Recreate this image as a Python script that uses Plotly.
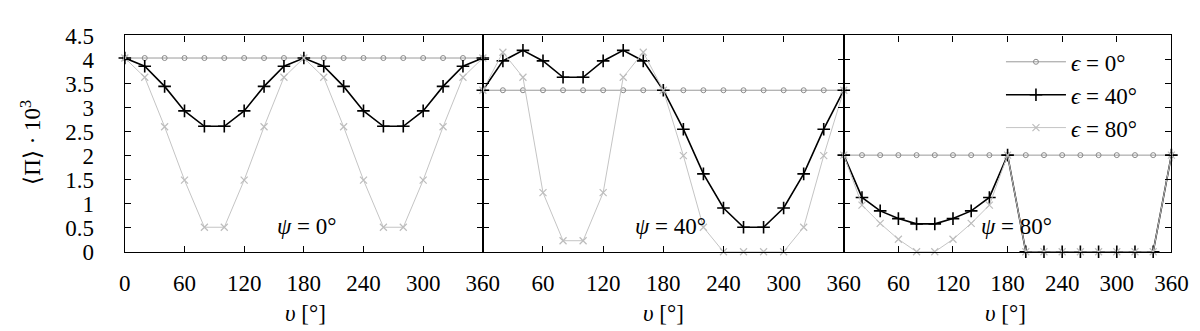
import plotly.graph_objects as go

# ---------------- data ----------------
nu = [0, 20, 40, 60, 80, 100, 120, 140, 160, 180, 200, 220, 240, 260, 280, 300, 320, 340, 360]

# psi = 0 deg
p0_eps0 = [4.03] * 19
p0_eps40 = [4.03, 3.86, 3.44, 2.93, 2.61, 2.61, 2.93, 3.44, 3.86, 4.03,
            3.86, 3.44, 2.93, 2.61, 2.61, 2.93, 3.44, 3.86, 4.03]
p0_eps80 = [4.03, 3.63, 2.60, 1.49, 0.51, 0.51, 1.49, 2.60, 3.63, 4.03,
            3.63, 2.60, 1.49, 0.51, 0.51, 1.49, 2.60, 3.63, 4.03]

# psi = 40 deg
p40_eps0 = [3.36] * 19
p40_eps40 = [3.36, 3.97, 4.19, 3.97, 3.63, 3.63, 3.97, 4.19, 3.97, 3.36,
             2.55, 1.62, 0.91, 0.51, 0.51, 0.91, 1.62, 2.55, 3.36]
p40_eps80 = [3.36, 4.15, 3.63, 1.23, 0.23, 0.23, 1.23, 3.63, 4.15, 3.36,
             2.00, 0.51, 0.0, 0.0, 0.0, 0.0, 0.51, 2.00, 3.36]

# psi = 80 deg
p80_eps0 = [2.01] * 19
p80_eps40 = [2.01, 1.13, 0.85, 0.69, 0.58, 0.58, 0.69, 0.85, 1.13, 2.01,
             0.0, 0.0, 0.0, 0.0, 0.0, 0.0, 0.0, 0.0, 2.01]
p80_eps80 = [2.01, 0.97, 0.59, 0.26, 0.0, 0.0, 0.26, 0.59, 0.97, 2.01,
             0.0, 0.0, 0.0, 0.0, 0.0, 0.0, 0.0, 0.0, 2.01]

panels = [
    ("0°", p0_eps0, p0_eps40, p0_eps80),
    ("40°", p40_eps0, p40_eps40, p40_eps80),
    ("80°", p80_eps0, p80_eps40, p80_eps80),
]
eps_names = ["<i>ϵ</i> = 0°", "<i>ϵ</i> = 40°", "<i>ϵ</i> = 80°"]
x_ticks = [0, 60, 120, 180, 240, 300, 360]

# ---------------- styling ----------------
W, H = 1200, 331
FONT = "Liberation Serif"
FS = 23
styles = [
    dict(line=dict(color="#9a9a9a", width=1),
         marker=dict(symbol="circle-open", size=5, color="#8a8a8a", line=dict(width=1))),
    dict(line=dict(color="#000000", width=1.6),
         marker=dict(symbol="cross-thin-open", size=9, color="#000000", line=dict(width=1.6, color="#000000"))),
    dict(line=dict(color="#c4c4c4", width=1),
         marker=dict(symbol="x-thin-open", size=7, color="#bdbdbd", line=dict(width=1.2, color="#bdbdbd"))),
]

# panel pixel bounds
xb = [(113, 478), (478, 846), (846, 1180)]
y_top, y_bot = 16.7, 250.7

fig = go.Figure()
for i, (psi, e0, e40, e80) in enumerate(panels):
    xa = "x" if i == 0 else f"x{i+1}"
    ya = "y" if i == 0 else f"y{i+1}"
    for j, ys in enumerate([e0, e40, e80]):
        fig.add_trace(go.Scatter(
            x=nu, y=ys, mode="lines+markers", xaxis=xa, yaxis=ya,
            name=eps_names[j], showlegend=(i == 0), cliponaxis=False,
            **styles[j]))

axis_common = dict(showline=True, linecolor="black", linewidth=1.3, mirror="ticks",
                   ticks="inside", ticklen=6, tickcolor="black", tickwidth=1,
                   showgrid=False, zeroline=False,
                   tickfont=dict(family=FONT, size=FS, color="black"))
layout = dict(width=W, height=H, margin=dict(l=0, r=0, t=0, b=0),
              paper_bgcolor="white", plot_bgcolor="white",
              font=dict(family=FONT, size=FS, color="black"))
ydom = [1 - y_bot / H, 1 - y_top / H]
for i in range(3):
    xk = "xaxis" if i == 0 else f"xaxis{i+1}"
    yk = "yaxis" if i == 0 else f"yaxis{i+1}"
    yref = "y" if i == 0 else f"y{i+1}"
    xref = "x" if i == 0 else f"x{i+1}"
    ticktext = [str(t) for t in x_ticks]
    if i > 0:
        ticktext[0] = ""
    layout[xk] = dict(axis_common, domain=[xb[i][0] / W, xb[i][1] / W], range=[0, 360],
                      tickvals=x_ticks, ticktext=ticktext, anchor=yref,
                      ticklabelstandoff=10)
    layout[yk] = dict(axis_common, domain=ydom, range=[0, 4.5], dtick=0.5, tick0=0,
                      anchor=xref, showticklabels=(i == 0), ticklabelstandoff=25)
    if i > 0:
        layout[yk]["matches"] = "y"

fig.update_layout(**layout)

# psi labels and x titles
psi_x = [298, 669, 1022]
title_x = [297, 662, 1011]
for i, (psi, *_rest) in enumerate(panels):
    fig.add_annotation(x=psi_x[i] / W, y=1 - 223 / H, xref="paper", yref="paper",
                       text=f"<i>ψ</i> = {psi}", showarrow=False,
                       font=dict(family=FONT, size=FS, color="black"),
                       xanchor="center", yanchor="middle")
    fig.add_annotation(x=title_x[i] / W, y=1 - 318 / H, xref="paper", yref="paper",
                       text="<i>υ</i> [°]", showarrow=False,
                       font=dict(family=FONT, size=FS, color="black"),
                       xanchor="center", yanchor="middle")

fig.add_annotation(x=17 / W, y=1 - 132 / H, xref="paper", yref="paper",
                   text="⟨Π⟩ · 10<sup>3</sup>", textangle=-90, showarrow=False,
                   font=dict(family=FONT, size=FS, color="black"),
                   xanchor="center", yanchor="middle")

fig.update_layout(legend=dict(x=1150 / W, y=1 - 22 / H, xanchor="right", yanchor="top",
                              bgcolor="rgba(0,0,0,0)", itemwidth=60,
                              font=dict(family=FONT, size=FS, color="black"),
                              tracegroupgap=0, itemsizing="trace"))

fig.write_html("out.html")
